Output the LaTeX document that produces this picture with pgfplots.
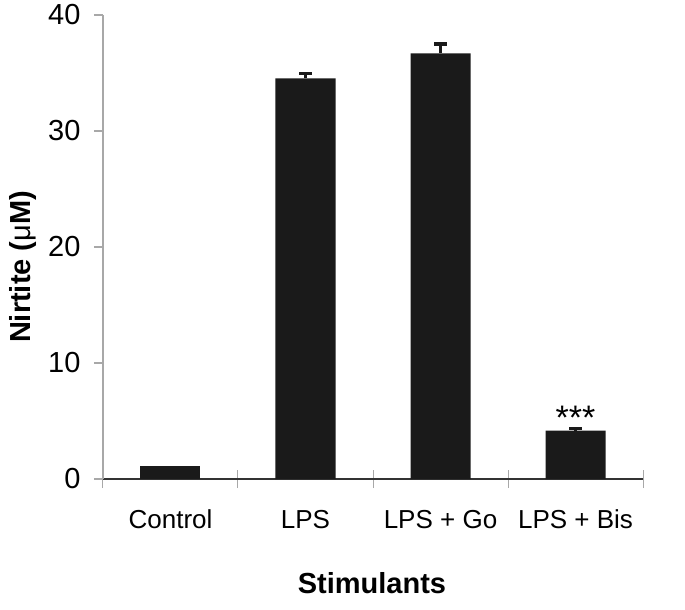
\documentclass[border=0pt]{standalone}
\usepackage{fontspec}
\setmainfont{Liberation Sans}
\usepackage{pgfplots}
\pgfplotsset{compat=1.18}

\definecolor{barfill}{HTML}{1A1A1A}
\definecolor{axisdark}{HTML}{333333}
\definecolor{axisgray}{HTML}{A8A8A8}

\begin{document}
\begin{tikzpicture}
\begin{axis}[
    name=ax,
    scale only axis,
    width=540pt,
    height=464pt,
    xmin=-0.5, xmax=3.5,
    ymin=0, ymax=40,
    axis lines*=left,
    x axis line style={draw=axisdark, line width=2.6pt},
    y axis line style={draw=axisgray, line width=1.4pt},
    ytick={0,10,20,30,40},
    xtick={-0.5,0.5,1.5,2.5,3.5},
    minor xtick={-0.5,0.5,1.5,2.5,3.5},
    x tick label as interval,
    xticklabels={Control,LPS,LPS + Go,LPS + Bis},
    xtick align=center,
    ytick align=outside,
    major tick length=9pt,
    minor tick length=18pt,
    ytick style={draw=axisgray, line width=1.2pt},
    major x tick style={draw=none},
    minor x tick style={draw=axisgray, line width=1pt},
    /pgf/number format/assume math mode=true,
    yticklabel style={font=\fontsize{29}{35}\selectfont, xshift=-10pt},
    xticklabel style={font=\fontsize{26}{31}\selectfont, anchor=base, yshift=-45pt},
    every axis y label/.style={at={(axis description cs:-0.148,0.457)}, anchor=center, rotate=90},
    every axis x label/.style={at={(axis description cs:0.498,-0.224)}, anchor=center},
    ylabel={\fontsize{29}{35}\selectfont\bfseries Nirtite ({\mdseries μ}M)},
    xlabel={\fontsize{29}{35}\selectfont\bfseries Stimulants},
    clip=false,
]
% control: no visible error bar
\addplot[ybar, bar width=60pt, fill=barfill, draw=none] coordinates {(0,1.15)};
\addplot[
    ybar, bar width=60pt, fill=barfill, draw=none,
    error bars/.cd, y dir=plus, y explicit,
    error bar style={line width=3.2pt, draw=barfill},
    error mark options={line width=3.4pt, mark size=6.5pt, draw=barfill, rotate=90},
] table[x=x, y=y, y error=e] {
x  y     e
1  34.54 0.43
2  36.70 0.80
3  4.16  0.18
};
\node[anchor=base, font=\fontsize{34}{40}\selectfont] at (axis cs:3,4.30) {***};
\end{axis}
\path[use as bounding box] ([shift={(-103pt,-131pt)}]ax.south west) rectangle ++(685pt,610pt);
\end{tikzpicture}
\end{document}
